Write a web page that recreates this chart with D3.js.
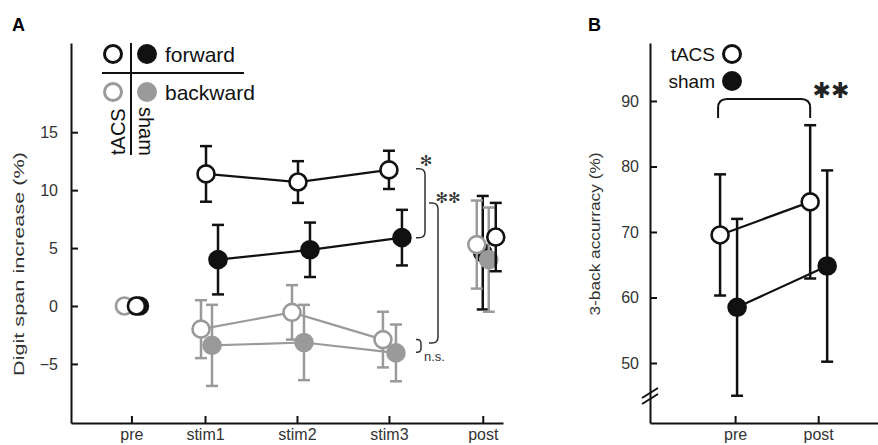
<!DOCTYPE html>
<html>
<head>
<meta charset="utf-8">
<script src="https://cdn.jsdelivr.net/npm/d3@7"></script>
<style>
  body { margin: 0; background: #fff; }
  svg { display: block; font-family: "Liberation Sans", Arial, sans-serif; }
</style>
</head>
<body>
<div id="chart"></div>
<script>
// panel A: digit span
const phases = ['pre', 'stim1', 'stim2', 'stim3', 'post'];
const phasePos = [0.2, 1, 2, 3, 4.02];
const tacsFwd = [0, 11.4, 10.7, 11.75, 5.95];
const tacsFwdErr = [0, 2.4, 1.8, 1.65, 2.95];
const shamFwd = [0, 4.0, 4.85, 5.9, 4.6];
const shamFwdErr = [0, 3.0, 2.35, 2.4, 4.9];
const tacsBwd = [0, -2.0, -0.55, -2.9, 5.3];
const tacsBwdErr = [0, 2.5, 2.35, 2.4, 3.8];
const shamBwd = [0, -3.4, -3.15, -4.05, 4.0];
const shamBwdErr = [0, 3.5, 3.25, 2.45, 4.5];
const yTicksA = [-5, 0, 5, 10, 15];
const bracketsA = [
    {top: 11.85, bottom: 5.9, label: '*'},
    {top: 8.9, bottom: -3.2, label: '**'},
    {top: -2.9, bottom: -4.0, label: 'n.s.'}
];

// panel B: 3-back
const sessions = ['pre', 'post'];
const tacsAcc = [69.55, 74.6];
const tacsAccErr = [9.25, 11.7];
const shamAcc = [58.5, 64.8];
const shamAccErr = [13.5, 14.6];
const yTicksB = [50, 60, 70, 80, 90];
const bracketB = {top: 90.3, leg: 87.4, label: '**'};

const W = 878, H = 445;
const gray = '#9a9a9a';

let svg = d3.select('#chart').append('svg')
    .attr('width', W)
    .attr('height', H);

// small jitter so markers at the same time point don't overlap fully
const jitterA = {
    tacsFwd: [5, 1, 1, 0, 13],
    shamFwd: [8, 13, 13, 13, 0],
    tacsBwd: [-7, -4, -5, -6, -6],
    shamBwd: [4, 7, 7, 7, 6]
};
const jitterB = {tacs: [-15, -8], sham: [2, 9]};

function style_axis(g) {
    g.select('.domain').attr('stroke', '#111').attr('stroke-width', 2);
    g.selectAll('.tick line').attr('stroke', '#111').attr('stroke-width', 2);
    g.selectAll('.tick text')
        .attr('fill', '#333')
        .style('font-size', '16px')
        .style('font-family', '"Liberation Sans", Arial, sans-serif');
}

function draw_series(g, x, y, pos, vals, errs, offs, opt) {
    let pts = vals.map((v, i) => ({x: x(pos[i]) + offs[i], y: v, e: errs[i], i: i}));
    // error bars
    pts.filter(d => d.e > 0).forEach(d => {
        g.append('line')
            .attr('x1', d.x).attr('x2', d.x)
            .attr('y1', y(d.y + d.e)).attr('y2', y(d.y - d.e))
            .attr('stroke', opt.color).attr('stroke-width', 2.5);
        [d.y + d.e, d.y - d.e].forEach(c => {
            g.append('line')
                .attr('x1', d.x - 6).attr('x2', d.x + 6)
                .attr('y1', y(c)).attr('y2', y(c))
                .attr('stroke', opt.color).attr('stroke-width', 2.5);
        });
    });
    // connecting line
    let linePts = pts.filter(d => opt.connect.includes(d.i));
    g.append('path')
        .attr('d', d3.line().x(d => d.x).y(d => y(d.y))(linePts))
        .attr('fill', 'none')
        .attr('stroke', opt.color)
        .attr('stroke-width', 2.2);
    g.selectAll(null)
        .data(pts)
        .enter()
        .append('circle')
        .attr('cx', d => d.x)
        .attr('cy', d => y(d.y))
        .attr('r', 8.5)
        .attr('fill', opt.filled ? opt.color : '#fff')
        .attr('stroke', opt.color)
        .attr('stroke-width', 2.6);
}

function bracket_path(x0, x1, yTop, yBot, r) {
    return `M${x0},${yTop} L${x1 - r},${yTop} Q${x1},${yTop} ${x1},${yTop + r}` +
        ` L${x1},${yBot - r} Q${x1},${yBot} ${x1 - r},${yBot} L${x0},${yBot}`;
}

function draw_panel_a() {
    let x = d3.scaleLinear().domain([-0.457, 4.24]).range([71, 503]);
    let y = d3.scaleLinear().domain([-10.1, 22.7]).range([423, 43]);
    let g = svg.append('g');

    g.append('text').text('A')
        .attr('x', 12).attr('y', 31)
        .style('font-size', '18px').style('font-weight', 'bold');

    let yAxis = g.append('g')
        .attr('transform', 'translate(71,0)')
        .call(d3.axisLeft(y).tickValues(yTicksA).tickSize(-7).tickSizeOuter(0).tickPadding(13));
    style_axis(yAxis);

    let xAxis = g.append('g')
        .attr('transform', 'translate(0,423)')
        .call(d3.axisBottom(x).tickValues(phasePos).tickFormat((d, i) => phases[i])
            .tickSize(-7).tickSizeOuter(0).tickPadding(6));
    style_axis(xAxis);

    g.append('text')
        .text('Digit span increase (%)')
        .attr('transform', 'translate(24,264) rotate(-90)')
        .attr('text-anchor', 'middle')
        .attr('textLength', 224)
        .attr('lengthAdjust', 'spacingAndGlyphs')
        .attr('fill', '#333')
        .style('font-size', '15px');

    let data = svg.append('g');
    draw_series(data, x, y, phasePos, shamFwd, shamFwdErr, jitterA.shamFwd, {color: '#111', filled: true, connect: [1, 2, 3]});
    draw_series(data, x, y, phasePos, shamBwd, shamBwdErr, jitterA.shamBwd, {color: gray, filled: true, connect: [1, 2, 3]});
    draw_series(data, x, y, phasePos, tacsBwd, tacsBwdErr, jitterA.tacsBwd, {color: gray, filled: false, connect: [1, 2, 3]});
    draw_series(data, x, y, phasePos, tacsFwd, tacsFwdErr, jitterA.tacsFwd, {color: '#111', filled: false, connect: [1, 2, 3]});

    // significance brackets next to stim3
    let bx = [[416, 425, 6], [429, 438, 6], [416, 421, 4]];
    bracketsA.forEach((b, i) => {
        g.append('path')
            .attr('d', bracket_path(bx[i][0], bx[i][1], y(b.top), y(b.bottom), bx[i][2]))
            .attr('fill', 'none')
            .attr('stroke', '#333')
            .attr('stroke-width', 1.5);
    });
    g.append('text').text('✻')
        .attr('x', 426).attr('y', 166)
        .attr('text-anchor', 'middle')
        .style('font-family', 'DejaVu Sans').style('font-size', '15px').attr('fill', '#333');
    g.append('text').text('✻✻')
        .attr('x', 448).attr('y', 203)
        .attr('text-anchor', 'middle')
        .style('font-family', 'DejaVu Sans').style('font-size', '15px').attr('fill', '#333');
    g.append('text').text('n.s.')
        .attr('x', 424).attr('y', 361)
        .attr('fill', '#333')
        .style('font-size', '13px');

    // legend
    let lg = g.append('g');
    lg.append('line').attr('x1', 102).attr('x2', 244).attr('y1', 73).attr('y2', 73)
        .attr('stroke', '#111').attr('stroke-width', 2);
    lg.append('line').attr('x1', 131).attr('x2', 131).attr('y1', 43).attr('y2', 155)
        .attr('stroke', '#111').attr('stroke-width', 2);
    let legendItems = [
        {cx: 113, cy: 54, color: '#111', filled: false},
        {cx: 147, cy: 54, color: '#111', filled: true},
        {cx: 113, cy: 92, color: gray, filled: false},
        {cx: 147, cy: 92, color: gray, filled: true}
    ];
    lg.selectAll(null).data(legendItems).enter().append('circle')
        .attr('cx', d => d.cx).attr('cy', d => d.cy).attr('r', 8.5)
        .attr('fill', d => d.filled ? d.color : '#fff')
        .attr('stroke', d => d.color).attr('stroke-width', 3);
    lg.append('text').text('forward').attr('x', 165).attr('y', 62)
        .attr('fill', '#111').style('font-size', '21px');
    lg.append('text').text('backward').attr('x', 165).attr('y', 100)
        .attr('fill', '#111').style('font-size', '21px');
    lg.append('text').text('tACS')
        .attr('transform', 'translate(125,155) rotate(-90)')
        .attr('fill', '#111').style('font-size', '20px');
    lg.append('text').text('sham')
        .attr('transform', 'translate(139,107) rotate(90)')
        .attr('fill', '#111').style('font-size', '20px');
}

function draw_panel_b() {
    let x = d3.scaleLinear().domain([-1.024, 1.72]).range([650, 878]);
    let y = d3.scaleLinear().domain([40.84, 98.85]).range([423, 43]);
    let pos = [0, 1];
    let g = svg.append('g');

    g.append('text').text('B')
        .attr('x', 588).attr('y', 31)
        .style('font-size', '18px').style('font-weight', 'bold');

    let yAxis = g.append('g')
        .attr('transform', 'translate(650,0)')
        .call(d3.axisLeft(y).tickValues(yTicksB).tickSize(-7).tickSizeOuter(0).tickPadding(11));
    style_axis(yAxis);

    let xAxis = g.append('g')
        .attr('transform', 'translate(0,423)')
        .call(d3.axisBottom(x).tickValues(pos).tickFormat((d, i) => sessions[i])
            .tickSize(-7).tickSizeOuter(0).tickPadding(6));
    style_axis(xAxis);

    // axis break marks
    [0, 6].forEach(dy => {
        g.append('line')
            .attr('x1', 642).attr('y1', 398 + dy)
            .attr('x2', 658).attr('y2', 388 + dy)
            .attr('stroke', '#111').attr('stroke-width', 2);
    });

    g.append('text')
        .text('3-back accurracy (%)')
        .attr('transform', 'translate(600,234) rotate(-90)')
        .attr('text-anchor', 'middle')
        .attr('textLength', 163)
        .attr('lengthAdjust', 'spacingAndGlyphs')
        .attr('fill', '#333')
        .style('font-size', '15px');

    let data = g.append('g');
    draw_series(data, x, y, pos, shamAcc, shamAccErr, jitterB.sham, {color: '#111', filled: true, connect: [0, 1]});
    draw_series(data, x, y, pos, tacsAcc, tacsAccErr, jitterB.tacs, {color: '#111', filled: false, connect: [0, 1]});

    // bracket pre vs post
    let bx0 = x(0) + jitterB.tacs[0] - 2, bx1 = x(1) + jitterB.tacs[1];
    let yt = y(bracketB.top), yl = y(bracketB.leg), r = 9;
    g.append('path')
        .attr('d', `M${bx0},${yl} L${bx0},${yt + r} Q${bx0},${yt} ${bx0 + r},${yt}` +
            ` L${bx1 - r},${yt} Q${bx1},${yt} ${bx1},${yt + r} L${bx1},${yl}`)
        .attr('fill', 'none').attr('stroke', '#111').attr('stroke-width', 2);
    g.append('text').text('✱✱')
        .attr('x', 831).attr('y', 98)
        .attr('text-anchor', 'middle')
        .style('font-family', 'DejaVu Sans').style('font-size', '22px').attr('fill', '#222');

    // legend
    g.append('text').text('tACS').attr('x', 715).attr('y', 61)
        .attr('text-anchor', 'end').attr('fill', '#111').style('font-size', '19px');
    g.append('text').text('sham').attr('x', 715).attr('y', 88)
        .attr('text-anchor', 'end').attr('fill', '#111').style('font-size', '19px');
    g.append('circle').attr('cx', 732).attr('cy', 54).attr('r', 8.5)
        .attr('fill', '#fff').attr('stroke', '#111').attr('stroke-width', 3);
    g.append('circle').attr('cx', 732).attr('cy', 81).attr('r', 8.5)
        .attr('fill', '#111').attr('stroke', '#111').attr('stroke-width', 3);
}

draw_panel_a();
draw_panel_b();
</script>
</body>
</html>
